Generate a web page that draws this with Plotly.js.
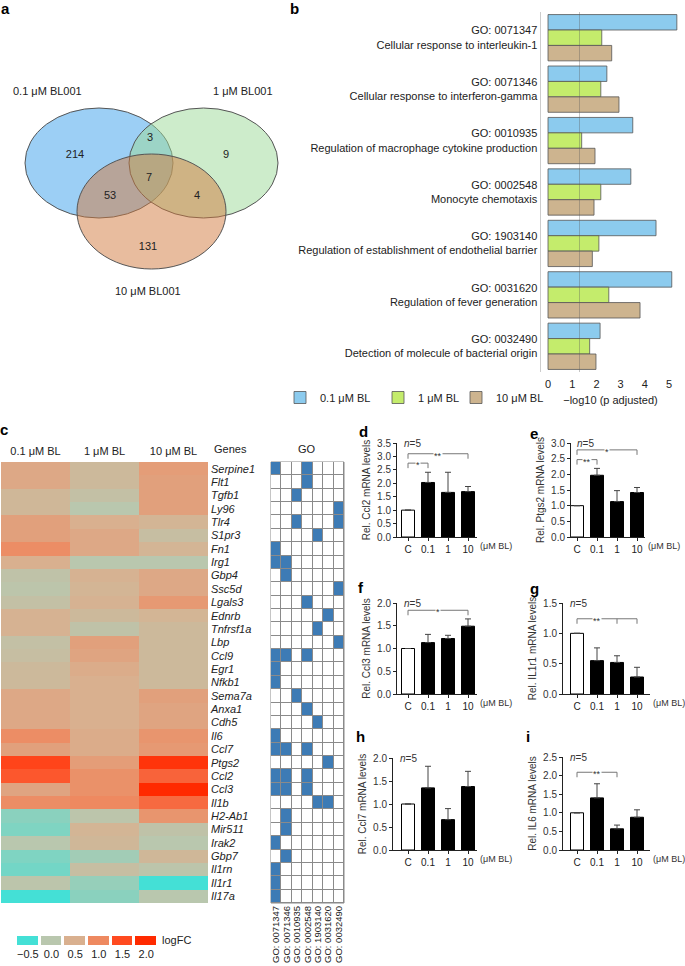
<!DOCTYPE html>
<html>
<head>
<meta charset="utf-8">
<title>BL001 panels</title>
<script src="https://cdn.plot.ly/plotly-3.0.1.min.js"></script>
<style>body{margin:0;background:#fff}</style>
</head>
<body>
<div id="graph" style="width:685px;height:966px"></div>
<script>
// ---- data ----
// a: venn counts
const vennCounts = ['214', '3', '9', '7', '53', '4', '131'];
const vennLabelX = [75, 150, 226, 149, 110, 197, 148];
const vennLabelY = [155, 138, 155, 178, 196, 196, 247];

// b: GO enrichment (-log10 p adjusted)
const goIds = ['GO: 0071347', 'GO: 0071346', 'GO: 0010935', 'GO: 0002548', 'GO: 1903140', 'GO: 0031620', 'GO: 0032490'];
const goNames = ['Cellular response to interleukin-1', 'Cellular response to interferon-gamma',
  'Regulation of macrophage cytokine production', 'Monocyte chemotaxis',
  'Regulation of establishment of endothelial barrier', 'Regulation of fever generation',
  'Detection of molecule of bacterial origin'];
const p01 = [5.32, 2.43, 3.50, 3.42, 4.46, 5.11, 2.15];
const p1 = [2.22, 2.18, 1.39, 2.18, 2.10, 2.51, 1.72];
const p10 = [2.63, 2.93, 1.94, 1.90, 1.83, 3.80, 1.98];
const doseNames = ['0.1 μM BL', '1 μM BL', '10 μM BL'];

// c: heatmap logFC
const genes = ['Serpine1', 'Flt1', 'Tgfb1', 'Ly96', 'Tlr4', 'S1pr3', 'Fn1', 'Irg1', 'Gbp4', 'Ssc5d', 'Lgals3',
  'Ednrb', 'Tnfrsf1a', 'Lbp', 'Ccl9', 'Egr1', 'Nfkb1', 'Sema7a', 'Anxa1', 'Cdh5', 'Il6', 'Ccl7', 'Ptgs2',
  'Ccl2', 'Ccl3', 'Il1b', 'H2-Ab1', 'Mir511', 'Irak2', 'Gbp7', 'Il1rn', 'Il1r1', 'Il17a'];
const fc01 = [0.6, 0.6, 0.35, 0.35, 0.7, 0.7, 0.95, 0.5, 0.1, 0.05, 0.15, 0.45, 0.45, 0.15, 0.2, 0.3, 0.3,
  0.6, 0.6, 0.6, 0.95, 0.7, 1.6, 1.4, 0.65, 0.95, -0.2, -0.25, 0.0, -0.25, -0.3, 0.05, -0.55];
const fc1 = [0.3, 0.3, 0.15, 0.0, 0.5, 0.6, 0.6, 0.0, 0.45, 0.4, 0.45, 0.3, 0.1, 0.7, 0.65, 0.55, 0.5,
  0.5, 0.5, 0.5, 0.55, 0.55, 0.75, 0.9, 0.9, 1.0, 0.05, 0.4, 0.35, -0.1, 0.2, -0.15, -0.2];
const fc10 = [0.75, 0.7, 0.7, 0.7, 0.4, 0.2, 0.4, 0.0, 0.6, 0.6, 0.8, 0.4, 0.3, 0.3, 0.3, 0.3, 0.3,
  0.7, 0.65, 0.65, 0.85, 0.8, 1.85, 1.3, 2.1, 1.25, 0.85, 0.1, 0.0, 0.35, 0.05, -0.5, 0.0];
// GO membership: column indices into goIds for each gene
const goHits = [[0, 3], [3], [2], [6], [2, 6], [4], [0], [0, 1], [1], [6], [3], [5], [4], [6], [0, 1, 3], [0], [0],
  [2], [3], [4], [0], [0, 1, 3], [5], [0, 1, 3], [0, 1, 3], [4, 5], [1], [1], [0], [1], [0], [0], [0]];
const legendVals = [-0.5, 0.0, 0.5, 1.0, 1.5, 2.0];
const legendText = ['−0.5', '0.0', '0.5', '1.0', '1.5', '2.0'];

// d-i: qPCR
const doseLabels = ['C', '0.1', '1', '10'];
const ccl2Mean = [1.0, 2.03, 1.66, 1.69], ccl2Err = [0, 0.38, 0.75, 0.19];
const ptgs2Mean = [1.0, 1.97, 1.13, 1.42], ptgs2Err = [0, 0.22, 0.35, 0.16];
const ccl3Mean = [1.0, 1.13, 1.22, 1.49], ccl3Err = [0, 0.18, 0.07, 0.16];
const il1r1Mean = [1.0, 0.55, 0.52, 0.28], il1r1Err = [0, 0.21, 0.11, 0.16];
const ccl7Mean = [1.0, 1.35, 0.66, 1.38], ccl7Err = [0, 0.47, 0.24, 0.33];
const il6Mean = [1.0, 1.40, 0.57, 0.88], il6Err = [0, 0.38, 0.10, 0.20];
// significance brackets: [tick positions, label, level]
const ccl2Sig = [[[0, 1], '*', 2.75], [[0, 3], '**', 3.1]];
const ptgs2Sig = [[[0, 1], '**', 2.47], [[0, 3], '*', 2.78]];
const ccl3Sig = [[[0, 3], '*', 1.84]];
const il1r1Sig = [[[0, 2, 3], '**', 1.24]];
const ccl7Sig = [];
const il6Sig = [[[0, 2], '**', 2.09]];

// ---- helpers ----
const W = 685, H = 966;
const FONT = 'Liberation Sans, Arial, sans-serif';
function dx(a, b) { return [a / W, b / W]; }
function dy(top, bottom) { return [1 - bottom / H, 1 - top / H]; }

const data = [];
const shapes = [];
const annotations = [];
const layout = {
  width: W, height: H,
  margin: {l: 0, r: 0, t: 0, b: 0},
  paper_bgcolor: '#fff', plot_bgcolor: 'rgba(0,0,0,0)',
  font: {family: FONT, size: 11, color: '#222'},
  showlegend: true,
  barmode: 'group',
  bargap: 0.1,
  bargroupgap: 0
};

// ---- a: venn ----
data.push({
  type: 'scatter', mode: 'text', x: vennLabelX, y: vennLabelY, text: vennCounts,
  textfont: {size: 11, color: '#222'}, xaxis: 'x', yaxis: 'y', showlegend: false, hoverinfo: 'skip'
});
layout.xaxis = {domain: dx(0, 290), range: [0, 290], visible: false, anchor: 'y'};
layout.yaxis = {domain: dy(0, 300), range: [300, 0], visible: false, anchor: 'x'};
const vennSets = [
  {x0: 25, x1: 173, y0: 108, y1: 218, fill: 'rgba(57,160,235,0.5)'},
  {x0: 129, x1: 278, y0: 108, y1: 218, fill: 'rgba(155,217,151,0.5)'},
  {x0: 77, x1: 226, y0: 154, y1: 269, fill: 'rgba(209,121,62,0.5)'}
];
vennSets.forEach(s => shapes.push({
  type: 'circle', xref: 'x', yref: 'y', x0: s.x0, x1: s.x1, y0: s.y0, y1: s.y1,
  fillcolor: s.fill, line: {color: '#555', width: 1}, layer: 'below'
}));
[['0.1 μM BL001', 47, 91], ['1 μM BL001', 243, 91], ['10 μM BL001', 148, 291]].forEach(t => annotations.push({
  text: t[0], xref: 'x', yref: 'y', x: t[1], y: t[2], xanchor: 'center', yanchor: 'middle',
  showarrow: false, font: {size: 11}
}));

// ---- b: GO bars ----
const bColors = ['#8ccbee', '#c4ec6c', '#cdb48f'];
const bLegends = ['legend', 'legend2', 'legend3'];
const bLegendX = [280, 378, 456];
[p01, p1, p10].forEach((vals, k) => {
  data.push({
    type: 'bar', orientation: 'h', x: vals, y: goIds, name: doseNames[k], xaxis: 'x2', yaxis: 'y2',
    legend: bLegends[k], marker: {color: bColors[k], line: {color: '#555', width: 0.8}}, hoverinfo: 'skip'
  });
  layout[bLegends[k]] = {orientation: 'h', x: bLegendX[k] / W, y: 1 - 383 / H, xanchor: 'left', yanchor: 'top',
    font: {size: 11}, itemwidth: 30, bgcolor: 'rgba(0,0,0,0)'};
});
layout.xaxis2 = {
  domain: dx(541, 680), anchor: 'y2', range: [-0.29, 5.45], tickvals: [0, 1, 2, 3, 4, 5],
  showgrid: false, zeroline: false, showline: false, ticks: '', tickfont: {size: 11}, ticklabelstandoff: 4,
  title: {text: '−log10 (p adjusted)', font: {size: 11}, standoff: 7}
};
layout.yaxis2 = {
  domain: dy(12, 372), anchor: 'x2', autorange: 'reversed', showline: true, linecolor: '#ccc', linewidth: 1.5,
  ticks: '', tickmode: 'array', tickvals: goIds, ticktext: goIds.map((g, i) => g + '<br>' + goNames[i]),
  tickfont: {size: 11, color: '#222'}, showgrid: false
};
shapes.push({type: 'line', xref: 'x2', yref: 'y2 domain', x0: 1.3, x1: 1.3, y0: 0, y1: 1,
  line: {color: 'rgba(90,90,90,0.35)', width: 1}, layer: 'above'});

// ---- c: heatmap ----
const cScale = [[0, '#44e0d6'], [0.2, '#b9c7ae'], [0.4, '#d9b08f'], [0.6, '#ee8960'], [0.8, '#ff4a20'], [1, '#ff2a00']];
data.push({
  type: 'heatmap', x: doseNames, y: genes, z: genes.map((g, i) => [fc01[i], fc1[i], fc10[i]]),
  colorscale: cScale, zmin: -0.5, zmax: 2.0, showscale: false, xaxis: 'x3', yaxis: 'y3', hoverinfo: 'skip'
});
layout.xaxis3 = {domain: dx(1, 208), anchor: 'y3', side: 'top', ticks: '', showline: false, showgrid: false,
  tickfont: {size: 11}, ticklabelstandoff: 4};
layout.yaxis3 = {domain: dy(462, 903), anchor: 'x3', side: 'right', autorange: 'reversed', ticks: '',
  tickmode: 'array', tickvals: genes, ticktext: genes.map(g => '<i>' + g + '</i>'),
  tickfont: {size: 11}, showgrid: false, ticklabelstandoff: 2};

// GO grid
data.push({
  type: 'heatmap', x: goIds, y: genes, z: goHits.map(h => goIds.map((g, j) => h.includes(j) ? 1 : 0)),
  colorscale: [[0, '#ffffff'], [1, '#3d7bb5']], zmin: 0, zmax: 1, xgap: 1, ygap: 1, showscale: false,
  xaxis: 'x4', yaxis: 'y4', hoverinfo: 'skip'
});
layout.xaxis4 = {domain: dx(271, 344), anchor: 'y4', side: 'bottom', tickangle: -90, ticks: '',
  tickmode: 'array', tickvals: goIds, ticktext: goIds,
  showgrid: false, showline: false, tickfont: {size: 9.5}, ticklabelstandoff: 0};
layout.yaxis4 = {domain: dy(462, 903), anchor: 'x4', autorange: 'reversed', showticklabels: false,
  ticks: '', showgrid: false};
shapes.push({type: 'rect', xref: 'x4 domain', yref: 'y4 domain', x0: 0, x1: 1, y0: 0, y1: 1,
  fillcolor: '#8a8a8a', line: {color: '#8a8a8a', width: 1}, layer: 'below'});
annotations.push({text: 'Genes', xref: 'paper', yref: 'paper', x: 212 / W, y: 1 - 449 / H,
  xanchor: 'left', yanchor: 'middle', showarrow: false, font: {size: 11}});
annotations.push({text: 'GO', xref: 'paper', yref: 'paper', x: 307 / W, y: 1 - 449 / H,
  xanchor: 'center', yanchor: 'middle', showarrow: false, font: {size: 11}});

// logFC key
data.push({
  type: 'heatmap', x: legendVals.map((v, i) => i), y: [0], z: [legendVals], colorscale: cScale,
  zmin: -0.5, zmax: 2.0, xgap: 3, showscale: false, xaxis: 'x5', yaxis: 'y5', hoverinfo: 'skip'
});
layout.xaxis5 = {domain: dx(16, 158), anchor: 'y5', tickmode: 'array', tickvals: [0, 1, 2, 3, 4, 5],
  ticktext: legendText, ticks: '', showgrid: false, showline: false, zeroline: false, tickfont: {size: 11},
  ticklabelstandoff: 1};
layout.yaxis5 = {domain: dy(936, 945), anchor: 'x5', visible: false};
annotations.push({text: 'logFC', xref: 'paper', yref: 'paper', x: 160 / W, y: 1 - 940 / H,
  xanchor: 'left', yanchor: 'middle', showarrow: false, font: {size: 11}});

// ---- d-i: qPCR bars ----
const panels = [
  {id: 6, mean: ccl2Mean, err: ccl2Err, sig: ccl2Sig, ymax: 3.5, title: 'Rel. Ccl2 mRNA levels', px: [397, 477], py: [443, 537], c0: 408},
  {id: 7, mean: ptgs2Mean, err: ptgs2Err, sig: ptgs2Sig, ymax: 3.0, title: 'Rel. Ptgs2 mRNA levels', px: [571, 645], py: [443, 537], c0: 577},
  {id: 8, mean: ccl3Mean, err: ccl3Err, sig: ccl3Sig, ymax: 2.0, title: 'Rel. Ccl3 mRNA levels', px: [397, 477], py: [603, 694], c0: 408},
  {id: 9, mean: il1r1Mean, err: il1r1Err, sig: il1r1Sig, ymax: 1.5, title: 'Rel. IL1r1 mRNA levels', px: [563, 650], py: [603, 694], c0: 577},
  {id: 10, mean: ccl7Mean, err: ccl7Err, sig: ccl7Sig, ymax: 2.0, title: 'Rel. Ccl7 mRNA levels', px: [393, 477], py: [758, 850], c0: 408},
  {id: 11, mean: il6Mean, err: il6Err, sig: il6Sig, ymax: 2.5, title: 'Rel. IL6 mRNA levels', px: [563, 650], py: [757, 850], c0: 577}
];
panels.forEach(p => {
  const xr = 'x' + p.id, yr = 'y' + p.id;
  data.push({
    type: 'bar', x: [0, 1, 2, 3], y: p.mean, xaxis: xr, yaxis: yr, width: 0.65, showlegend: false,
    marker: {color: p.mean.map((v, i) => i === 0 ? '#fff' : '#000'), line: {color: '#000', width: 1}},
    error_y: {type: 'data', symmetric: false, array: p.err, arrayminus: p.err.map(() => 0),
      color: '#444', thickness: 1, width: 3},
    hoverinfo: 'skip'
  });
  layout['xaxis' + p.id] = {
    domain: dx(p.px[0], p.px[1]), anchor: yr, range: [(p.px[0] - p.c0) / 20, (p.px[1] - p.c0) / 20],
    tickmode: 'array', tickvals: [0, 1, 2, 3], ticktext: doseLabels, showline: true, linecolor: '#222',
    ticks: 'outside', ticklen: 3, tickcolor: '#222', showgrid: false, zeroline: false, tickfont: {size: 10}
  };
  layout['yaxis' + p.id] = {
    domain: dy(p.py[0], p.py[1]), anchor: xr, range: [0, p.ymax], dtick: 0.5, tickformat: '.1f',
    showline: true, linecolor: '#222', ticks: 'outside', ticklen: 3, tickcolor: '#222',
    showgrid: false, zeroline: false, tickfont: {size: 10, color: '#333'},
    title: {text: p.title, font: {size: 10, color: '#333'}, standoff: 4}
  };
  p.sig.forEach(s => {
    const ticks = s[0], level = s[2];
    shapes.push({type: 'line', xref: xr, yref: yr, x0: ticks[0], x1: ticks[ticks.length - 1], y0: level, y1: level,
      line: {color: '#777', width: 1}});
    ticks.forEach(t => shapes.push({type: 'line', xref: xr, yref: yr, x0: t, x1: t, ysizemode: 'pixel',
      yanchor: level, y0: -5, y1: 0, line: {color: '#777', width: 1}}));
    annotations.push({text: s[1], xref: xr, yref: yr, x: (ticks[0] + ticks[1]) / 2, y: level,
      xanchor: 'center', yanchor: 'middle', showarrow: false, bgcolor: '#fff', borderpad: 0, yshift: -2,
      font: {size: 9, color: '#333'}});
  });
  annotations.push({text: '<i>n</i>=5', xref: xr + ' domain', yref: yr, x: 0.06, y: p.ymax,
    xanchor: 'left', yanchor: 'middle', showarrow: false, font: {size: 10, color: '#333'}});
  annotations.push({text: '(μM BL)', xref: xr + ' domain', yref: yr + ' domain', x: 1, y: 0,
    xanchor: 'left', yanchor: 'top', xshift: 1, yshift: -2, showarrow: false, font: {size: 9, color: '#333'}});
});

// panel letters
[['a', 5, 8], ['b', 294, 8], ['c', 4, 429], ['d', 363, 432], ['e', 534, 433],
 ['f', 361, 587], ['g', 534, 588], ['h', 361, 736], ['i', 528, 736]].forEach(l => annotations.push({
  text: '<b>' + l[0] + '</b>', xref: 'paper', yref: 'paper', x: l[1] / W, y: 1 - l[2] / H,
  xanchor: 'center', yanchor: 'middle', showarrow: false, font: {size: 15, color: '#000'}
}));

layout.shapes = shapes;
layout.annotations = annotations;

Plotly.newPlot('graph', data, layout, {staticPlot: true});
</script>
</body>
</html>
